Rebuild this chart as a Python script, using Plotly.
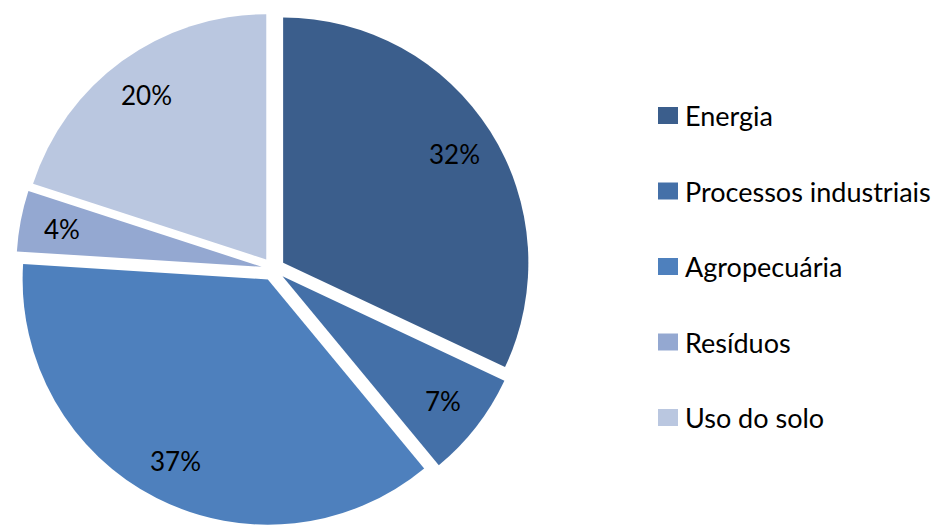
import math
import plotly.graph_objects as go

labels = ["Energia", "Processos industriais", "Agropecuária", "Resíduos", "Uso do solo"]
values = [32, 7, 37, 4, 20]
colors = ["#3B5E8C", "#4470A8", "#4E80BD", "#94A8D1", "#BAC7E0"]

FONT = "Lato"
W, H = 934, 526
T = 12                    # top margin
PULL = 0.048
DOM_X = [0.0, 0.585]

fig = go.Figure()
fig.add_trace(go.Pie(
    labels=labels,
    values=values,
    sort=False,
    direction="clockwise",
    rotation=0,
    pull=[PULL] * len(values),
    marker=dict(colors=colors, line=dict(width=0)),
    textinfo="none",
    domain=dict(x=DOM_X, y=[0, 1]),
    showlegend=False,
    hoverinfo="label+percent",
))

PH = H - T
def px_to_paper(px, py):
    return px / W, 1 - (py - T) / PH

# Percentage labels placed along each slice's mid-angle (like Excel's data labels)
cx = (DOM_X[0] + DOM_X[1]) / 2 * W
cy = T + PH / 2
r = min((DOM_X[1] - DOM_X[0]) * W, PH) / 2 / (1 + PULL)
total = sum(values)
cum = 0
for v in values:
    mid = (cum + v / 2) / total * 2 * math.pi
    cum += v
    dist = PULL * r + 0.83 * r
    lx = cx + dist * math.sin(mid)
    ly = cy - dist * math.cos(mid)
    xp, yp = px_to_paper(lx, ly)
    fig.add_annotation(xref="paper", yref="paper", x=xp, y=yp,
                       xanchor="center", yanchor="middle", text=f"{v}%",
                       showarrow=False,
                       font=dict(family=FONT, size=26, color="black"))

# Legend drawn as annotations + shapes
legend_top = 115.5
legend_step = 75.5
sq_x0, sq_x1 = 658, 678
for i, (lab, col) in enumerate(zip(labels, colors)):
    yc = legend_top + i * legend_step
    x0, y0 = px_to_paper(sq_x0, yc + 8.5)
    x1, y1 = px_to_paper(sq_x1, yc - 8.5)
    fig.add_shape(type="rect", xref="paper", yref="paper",
                  x0=x0, x1=x1, y0=y0, y1=y1,
                  fillcolor=col, line=dict(width=0))
    xt, yt = px_to_paper(683, yc)
    fig.add_annotation(xref="paper", yref="paper", x=xt, y=yt,
                       xanchor="left", yanchor="middle", text=lab, showarrow=False,
                       font=dict(family=FONT, size=27, color="black"))

fig.update_layout(
    width=W, height=H,
    margin=dict(l=0, r=0, t=T, b=0),
    paper_bgcolor="white",
    plot_bgcolor="white",
)

fig.write_html("out.html")
